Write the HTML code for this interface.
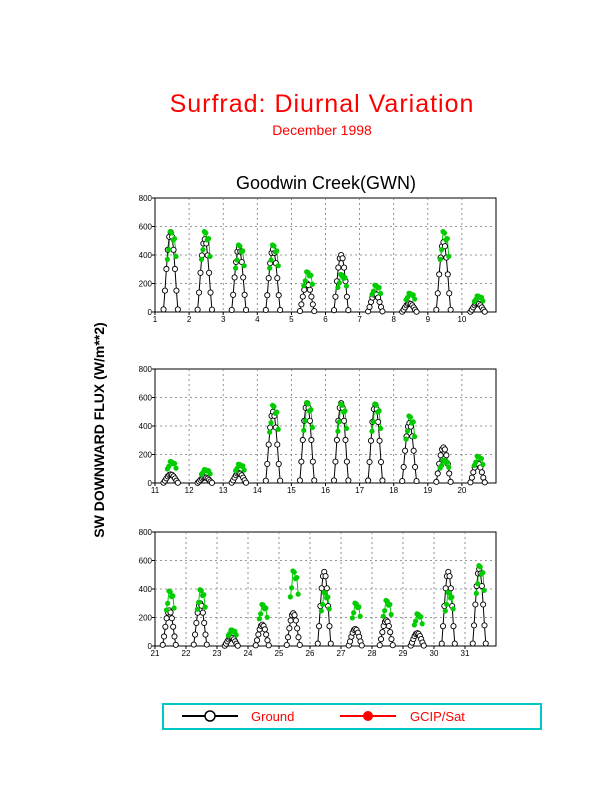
<!DOCTYPE html>
<html><head><meta charset="utf-8"><style>
body{margin:0;background:#fff;width:612px;height:792px;overflow:hidden;font-family:"Liberation Sans",sans-serif}
</style></head><body>
<svg id="s" width="612" height="792" xmlns="http://www.w3.org/2000/svg" font-family="Liberation Sans, sans-serif">
<text x="322" y="112" font-size="25" fill="#f00" text-anchor="middle" letter-spacing="1">Surfrad: Diurnal Variation</text>
<text x="322" y="135" font-size="14" fill="#f00" text-anchor="middle">December 1998</text>
<text x="326" y="189" font-size="18" fill="#000" text-anchor="middle">Goodwin Creek(GWN)</text>
<text transform="translate(104,430) rotate(-90)" font-size="14" font-weight="bold" fill="#000" text-anchor="middle">SW DOWNWARD FLUX (W/m**2)</text>
<rect x="163" y="704" width="378" height="25" fill="none" stroke="#00c8c8" stroke-width="2"/>
<line x1="182" y1="716" x2="238" y2="716" stroke="#000" stroke-width="2"/>
<circle cx="210" cy="716" r="5" fill="#fff" stroke="#000" stroke-width="1.5"/>
<text x="251" y="721" font-size="13" fill="#f00">Ground</text>
<line x1="340" y1="716" x2="396" y2="716" stroke="#f00" stroke-width="2"/>
<circle cx="368" cy="716" r="5" fill="#f00"/>
<text x="410" y="721" font-size="13" fill="#f00">GCIP/Sat</text>
<g id="p"></g>
</svg>
<script>
var g=document.getElementById('p'),h='';
var panels=[{y0:198,d0:1,n:10,labels:[1,2,3,4,5,6,7,8,9,10],
 pk:[[560,600],[510,600],[450,500],[440,500],[200,300],[400,280],[130,200],[60,140],[490,600],[60,120]]},
 {y0:369,d0:11,n:10,labels:[11,12,13,14,15,16,17,18,19,20],
 pk:[[60,160],[40,100],[70,140],[500,580],[560,600],[560,590],[550,590],[420,500],[250,170],[140,200]]},
 {y0:532,d0:21,n:11,labels:[21,22,23,24,25,26,27,28,29,30,31],
 pk:[[250,410],[300,420],[60,120],[150,310],[230,560],[520,400],[120,320],[180,340],[90,240],[520,400],[540,600]]}];
var X0=155,W=341,H=114;
panels.forEach(function(P){
 var dx=W/(P.n+ (P.n==10?0:0)); if(P.n==10) dx=W/10; else dx=W/11;
 var y0=P.y0,yb=y0+H;
 function Y(v){return yb-v/800*H;}
 h+='<rect x="'+X0+'" y="'+y0+'" width="'+W+'" height="'+H+'" fill="none" stroke="#000" stroke-width="1"/>';
 for(var i=1;i<(P.n==10?10:11);i++){var x=X0+i*dx;h+='<line x1="'+x+'" y1="'+y0+'" x2="'+x+'" y2="'+yb+'" stroke="#777" stroke-dasharray="2,3" stroke-width="0.8"/>';}
 for(var v=200;v<800;v+=200){h+='<line x1="'+X0+'" y1="'+Y(v)+'" x2="'+(X0+W)+'" y2="'+Y(v)+'" stroke="#777" stroke-dasharray="2,3" stroke-width="0.8"/>';}
 for(var v=0;v<=800;v+=200){h+='<text x="'+(X0-3)+'" y="'+(Y(v)+3)+'" font-size="8" text-anchor="end">'+v+'</text><line x1="'+(X0-3)+'" y1="'+Y(v)+'" x2="'+X0+'" y2="'+Y(v)+'" stroke="#000"/>';}
 P.labels.forEach(function(l,i){var x=X0+i*dx;h+='<text x="'+x+'" y="'+(yb+10)+'" font-size="8" text-anchor="middle">'+l+'</text><line x1="'+x+'" y1="'+yb+'" x2="'+x+'" y2="'+(yb+3)+'" stroke="#000"/>';});
 P.pk.forEach(function(pk,i){
  var gp=[],cp=[];
  for(var k=0;k<11;k++){var t=0.25+k*0.042;var s=Math.sin(Math.PI*(t-0.24)/0.44);if(s<0)s=0;
   var x=X0+(i+t)*dx;cp.push([x,Y(pk[0]*Math.pow(s,1.3))]);
   if(k>=2&&k<=8){var w=(k*37%7)/40;gp.push([x+1,Y(pk[1]*Math.pow(s,0.8)*(1-w))]);}}
  h+='<polyline points="'+cp.map(function(p){return p.join(',')}).join(' ')+'" fill="none" stroke="#000" stroke-width="1"/>';
  h+='<polyline points="'+gp.map(function(p){return p.join(',')}).join(' ')+'" fill="none" stroke="#00cc00" stroke-width="1"/>';
  cp.forEach(function(p){h+='<circle cx="'+p[0]+'" cy="'+p[1]+'" r="2.6" fill="#fff" stroke="#000" stroke-width="0.9"/>';});
  gp.forEach(function(p){h+='<circle cx="'+p[0]+'" cy="'+p[1]+'" r="2.6" fill="#00cc00"/>';});
 });
});
g.innerHTML=h;
</script>
</body></html>
